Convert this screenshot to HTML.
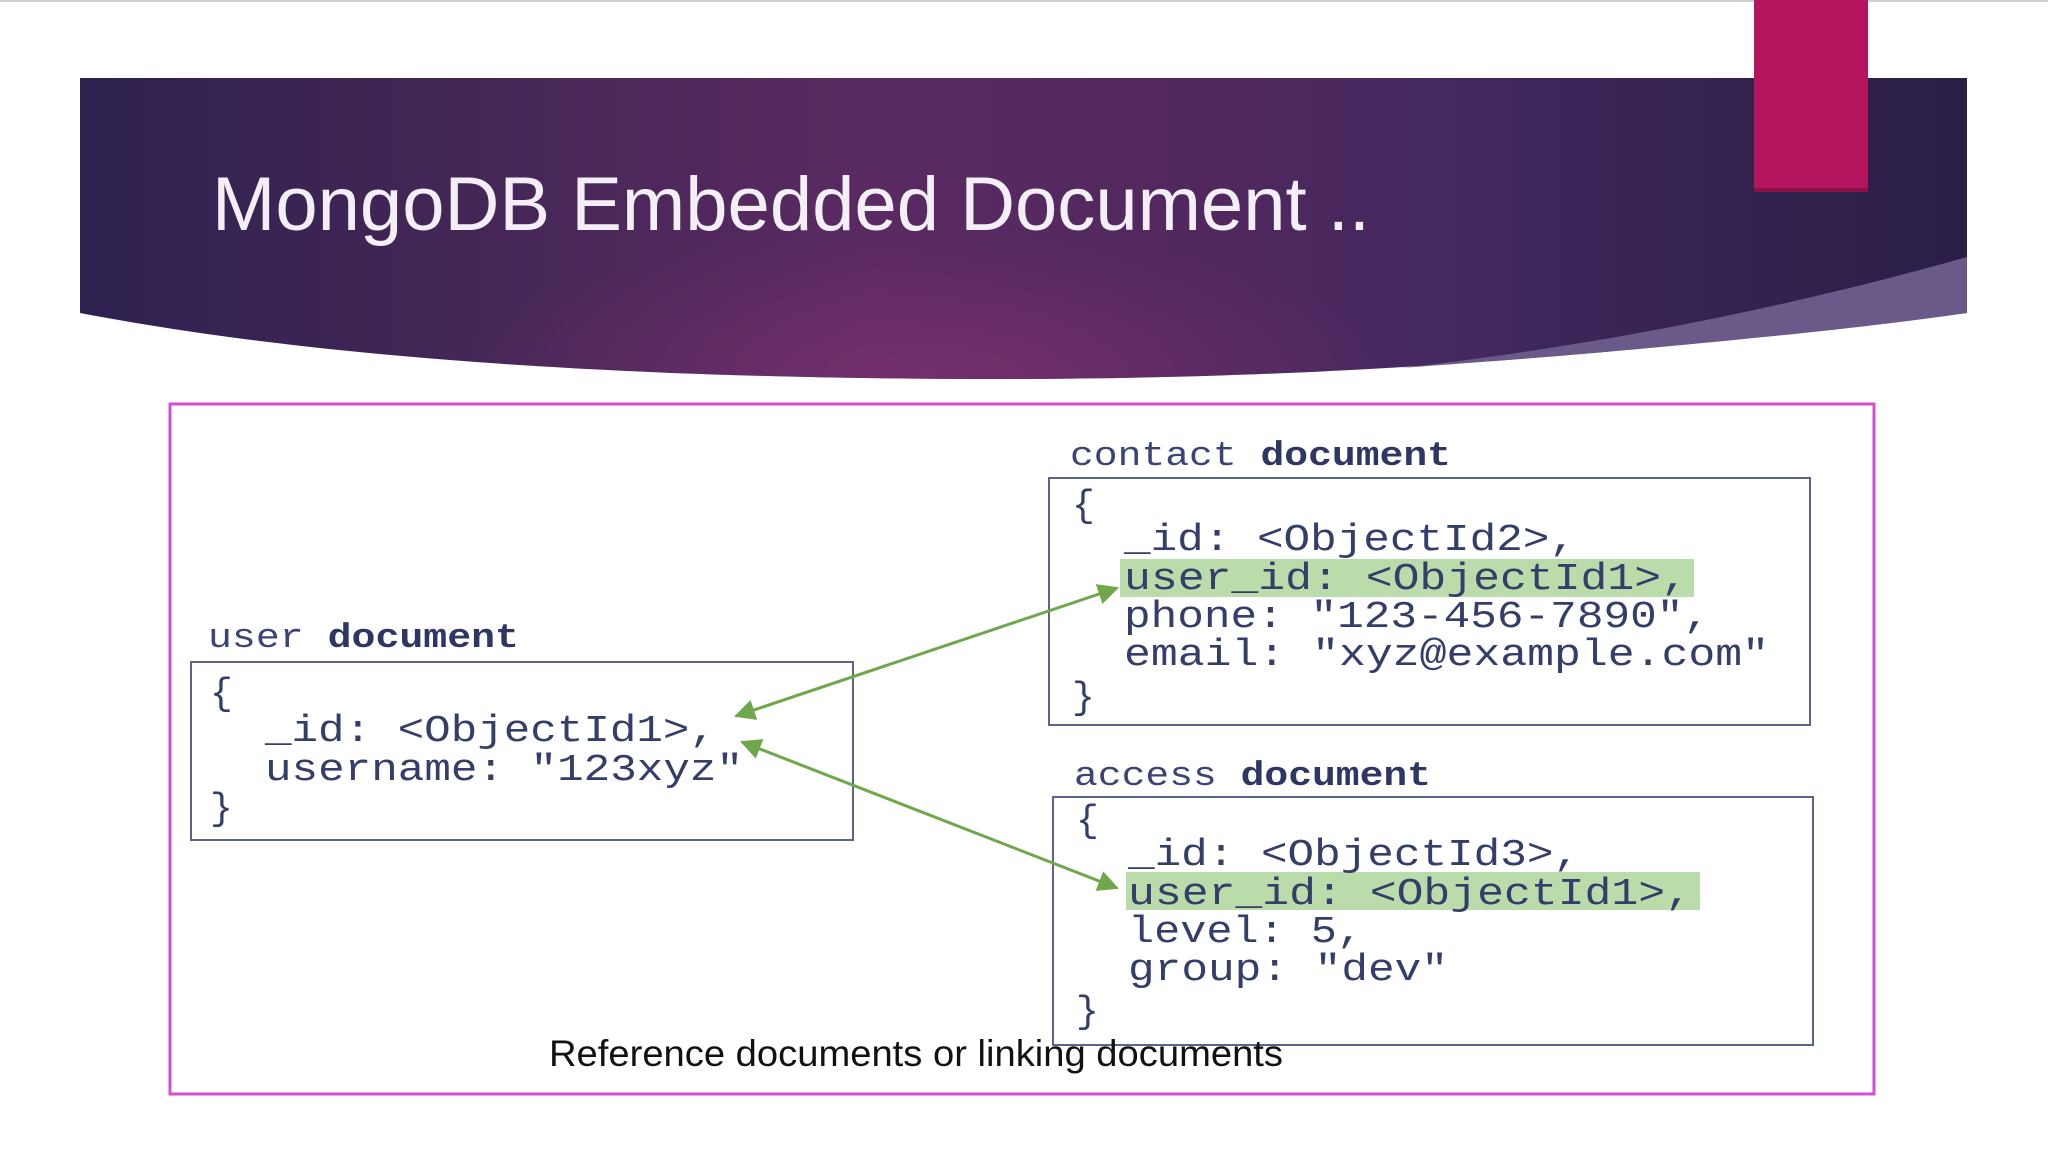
<!DOCTYPE html>
<html><head><meta charset="utf-8"><style>
html,body{margin:0;padding:0;background:#fff;}
svg{display:block}
.c{font-family:"Liberation Mono","DejaVu Sans Mono",monospace;font-size:38px;fill:#353e6a;}
.l{font-family:"Liberation Mono","DejaVu Sans Mono",monospace;font-size:34px;fill:#3a4575;}
</style></head><body>
<svg width="2048" height="1152" viewBox="0 0 2048 1152" xmlns="http://www.w3.org/2000/svg">
<defs>
<linearGradient id="base" x1="0" x2="1">
<stop offset="0" stop-color="#2e2250"/>
<stop offset="0.2" stop-color="#432656"/>
<stop offset="0.42" stop-color="#5a2a62"/>
<stop offset="0.6" stop-color="#50285e"/>
<stop offset="0.72" stop-color="#44285f"/>
<stop offset="0.8" stop-color="#3a2658"/>
<stop offset="1" stop-color="#2a1e46"/>
</linearGradient>
<radialGradient id="glow" cx="0.45" cy="1" r="0.5" gradientTransform="translate(0.225,0) scale(0.5,1)">
<stop offset="0" stop-color="#7a3070" stop-opacity="0.8"/>
<stop offset="1" stop-color="#7a3070" stop-opacity="0"/>
</radialGradient>
<marker id="ah" viewBox="0 0 10 10" refX="9" refY="5" markerWidth="7" markerHeight="7" orient="auto-start-reverse">
<path d="M0,0 L10,5 L0,10 z" fill="#6ea84a"/>
</marker>
</defs>
<rect x="0" y="0" width="2048" height="2" fill="#d0d0d0"/>
<path d="M80,78 H1967 V313 C1700,345 1400,379 1000,379 C600,379 300,355 80,313 Z" fill="url(#base)"/>
<path d="M80,78 H1967 V313 C1700,345 1400,379 1000,379 C600,379 300,355 80,313 Z" fill="url(#glow)"/>
<path d="M1967,257 C1850,290 1650,340 1400,368 C1650,350 1850,330 1967,313 Z" fill="#6a5a8a"/>
<rect x="1754" y="0" width="114" height="192" fill="#b5145f"/>
<rect x="1754" y="188" width="114" height="4" fill="#8a1048"/>
<text x="212" y="230" font-family="'Liberation Sans','DejaVu Sans',sans-serif" font-size="76" fill="#f4eef6" textLength="1158" lengthAdjust="spacingAndGlyphs">MongoDB Embedded Document ..</text>
<rect x="170" y="404" width="1704" height="690" fill="none" stroke="#d34fd3" stroke-width="3"/>
<text class="l" x="208" y="647" textLength="311" lengthAdjust="spacingAndGlyphs">user <tspan font-weight="bold" fill="#2e3763">document</tspan></text>
<rect x="191" y="662" width="662" height="178" fill="none" stroke="#5c6488" stroke-width="2"/>
<text class="c" x="210" y="704">{</text>
<text class="c" x="265" y="741" textLength="451" lengthAdjust="spacingAndGlyphs">_id: &lt;ObjectId1&gt;,</text>
<text class="c" x="265" y="780" textLength="478" lengthAdjust="spacingAndGlyphs">username: "123xyz"</text>
<text class="c" x="210" y="819">}</text>
<text class="l" x="1070" y="465" textLength="381" lengthAdjust="spacingAndGlyphs">contact <tspan font-weight="bold" fill="#2e3763">document</tspan></text>
<rect x="1049" y="478" width="761" height="247" fill="none" stroke="#5c6488" stroke-width="2"/>
<rect x="1120" y="559" width="574" height="38" fill="#b9dcaa"/>
<text class="c" x="1072" y="516">{</text>
<text class="c" x="1124" y="550" textLength="452" lengthAdjust="spacingAndGlyphs">_id: &lt;ObjectId2&gt;,</text>
<text class="c" x="1124" y="589" textLength="564" lengthAdjust="spacingAndGlyphs">user_id: &lt;ObjectId1&gt;,</text>
<text class="c" x="1124" y="627" textLength="586" lengthAdjust="spacingAndGlyphs">phone: "123-456-7890",</text>
<text class="c" x="1124" y="665" textLength="645" lengthAdjust="spacingAndGlyphs">email: "xyz@example.com"</text>
<text class="c" x="1072" y="708">}</text>
<text class="l" x="1074" y="785" textLength="357" lengthAdjust="spacingAndGlyphs">access <tspan font-weight="bold" fill="#2e3763">document</tspan></text>
<rect x="1053" y="797" width="760" height="248" fill="none" stroke="#5c6488" stroke-width="2"/>
<rect x="1126" y="872" width="574" height="38" fill="#b9dcaa"/>
<text class="c" x="1076" y="831">{</text>
<text class="c" x="1128" y="865" textLength="452" lengthAdjust="spacingAndGlyphs">_id: &lt;ObjectId3&gt;,</text>
<text class="c" x="1128" y="904" textLength="564" lengthAdjust="spacingAndGlyphs">user_id: &lt;ObjectId1&gt;,</text>
<text class="c" x="1128" y="942" textLength="235" lengthAdjust="spacingAndGlyphs">level: 5,</text>
<text class="c" x="1128" y="980" textLength="320" lengthAdjust="spacingAndGlyphs">group: "dev"</text>
<text class="c" x="1076" y="1022">}</text>
<line x1="736" y1="716" x2="1117" y2="588" stroke="#6ea84a" stroke-width="3" marker-start="url(#ah)" marker-end="url(#ah)"/>
<line x1="742" y1="742" x2="1117" y2="888" stroke="#6ea84a" stroke-width="3" marker-start="url(#ah)" marker-end="url(#ah)"/>
<text x="549" y="1066" font-family="'Liberation Sans','DejaVu Sans',sans-serif" font-size="37" fill="#111" textLength="734" lengthAdjust="spacingAndGlyphs">Reference documents or linking documents</text>
</svg>
</body></html>
